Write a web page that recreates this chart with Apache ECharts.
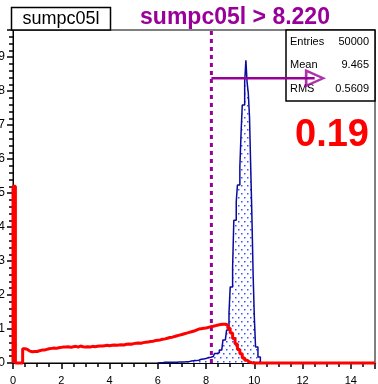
<!DOCTYPE html>
<html><head><meta charset="utf-8">
<script src="https://cdn.jsdelivr.net/npm/echarts@6/dist/echarts.min.js"></script>
<style>html,body{margin:0;padding:0;background:#fff;overflow:hidden}#c{width:378px;height:384px}</style>
</head><body><div id="c"></div>
<script>
// ---------- data ----------
const histTitle = 'sumpc05l';
const cutTitle = 'sumpc05l > 8.220';
const cutValue = 8.22;
const arrowY = 8.38;
const arrowEndX = 12.5;
const efficiencyText = '0.19';
const statNames = ['Entries', 'Mean', 'RMS'];
const statValues = ['50000', '9.465', '0.5609'];
const xRange = [0, 15];
const yRange = [0, 9.8];
const xTickStep = 2;
const yTickStep = 1;

// red (all events) histogram, bins of 0.1 starting at 0
const redStart = 0;
const redBinWidth = 0.1;
const redValues = [
  5.2, 0, 0, 0, 0.42, 0.40, 0.35, 0.33, 0.34, 0.34,
  0.36, 0.38, 0.38, 0.40, 0.42, 0.43, 0.44, 0.43, 0.45, 0.46,
  0.47, 0.47, 0.48, 0.46, 0.48, 0.49, 0.47, 0.50, 0.48, 0.47,
  0.48, 0.47, 0.49, 0.48, 0.49, 0.50, 0.50, 0.51, 0.52, 0.51,
  0.52, 0.53, 0.52, 0.53, 0.54, 0.53, 0.55, 0.56, 0.55, 0.57,
  0.58, 0.59, 0.58, 0.60, 0.61, 0.62, 0.63, 0.64, 0.66, 0.67,
  0.68, 0.70, 0.71, 0.73, 0.75, 0.76, 0.78, 0.80, 0.82, 0.84,
  0.86, 0.88, 0.90, 0.92, 0.94, 0.97, 1.00, 1.01, 1.02, 1.03,
  1.05, 1.07, 1.08, 1.10, 1.12, 1.13, 1.14, 1.14, 1.12, 1.02,
  0.88, 0.72, 0.56, 0.40, 0.27, 0.15, 0.08, 0.03, 0.01, 0
];

// blue (signal) histogram, bins of 0.05 starting at 6.0
const blueStart = 6.0;
const blueBinWidth = 0.05;
const blueValues = [
  0.01, 0.01, 0.01, 0.01, 0.01, 0.02, 0.01, 0.02, 0.02, 0.02,
  0.02, 0.02, 0.02, 0.02, 0.03, 0.02, 0.03, 0.03, 0.03, 0.03,
  0.03, 0.03, 0.03, 0.04, 0.04, 0.04, 0.06, 0.06, 0.06, 0.07,
  0.07, 0.07, 0.08, 0.08, 0.09, 0.11, 0.11, 0.12, 0.12, 0.13,
  0.15, 0.16, 0.16, 0.17, 0.18, 0.19, 0.20,
  0.28, 0.28, 0.30, 0.30,
  0.38, 0.38, 0.38,
  0.68, 0.68, 0.68,
  0.97, 0.97,
  1.47, 2.24, 2.24, 2.82, 4.2, 4.2, 4.74, 5.24, 5.24, 5.76,
  6.76, 7.59, 7.59, 8.26, 8.91, 8.26, 7.94, 7.24, 5.76, 4.3,
  2.6, 1.35, 0.47, 0.47, 0.18, 0.18, 0.03
];

// ---------- build ----------
function histPoints(start, w, vals, endX) {
  const pts = [[start, 0]];
  vals.forEach((v, i) => pts.push([+(start + i * w).toFixed(4), v]));
  pts.push([+(start + vals.length * w).toFixed(4), 0]);
  if (endX !== undefined) pts.push([endX, 0]);
  return pts;
}

const pat = document.createElement('canvas');
pat.width = 6; pat.height = 8;
const pc = pat.getContext('2d');
pc.fillStyle = '#ffffff'; pc.fillRect(0, 0, 6, 8);
pc.fillStyle = '#3a55ff';
pc.fillRect(1, 1, 1.5, 1.5);
pc.fillRect(4, 5, 1.5, 1.5);

const PURPLE = '#990099';
const FONT = 'Liberation Sans, Arial, Helvetica, sans-serif';

const chart = echarts.init(document.getElementById('c'), null, {renderer: 'canvas'});

const statGraphics = [];
statNames.forEach((n, i) => {
  statGraphics.push({type: 'text', x: 290, y: 42 + i * 23.3, z: 1,
    style: {text: n, fontSize: 11, fontFamily: FONT, fill: '#000', verticalAlign: 'middle', align: 'left'}});
  statGraphics.push({type: 'text', x: 369, y: 42 + i * 23.3, z: 1,
    style: {text: statValues[i], fontSize: 11, fontFamily: FONT, fill: '#000', verticalAlign: 'middle', align: 'right'}});
});

chart.setOption({
  animation: false,
  backgroundColor: '#fff',
  grid: {left: 13, right: 3, top: 30, bottom: 21, outerBoundsMode: 'none', containLabel: false,
    show: true, borderColor: '#000', borderWidth: 1, backgroundColor: 'transparent'},
  xAxis: {
    type: 'value', min: xRange[0], max: xRange[1], interval: xTickStep,
    axisLine: {show: true, onZero: false, lineStyle: {color: '#000', width: 1}},
    axisTick: {show: true, inside: false, length: 6, lineStyle: {color: '#000', width: 1.5}},
    minorTick: {show: true, splitNumber: 4, length: 4, lineStyle: {color: '#000', width: 1.5}},
    axisLabel: {fontSize: 11, fontFamily: FONT, color: '#000', margin: 12, showMaxLabel: false},
    splitLine: {show: false}
  },
  yAxis: {
    type: 'value', min: yRange[0], max: yRange[1], interval: yTickStep,
    axisLine: {show: true, onZero: false, lineStyle: {color: '#000', width: 1}},
    axisTick: {show: true, inside: false, length: 6, lineStyle: {color: '#000', width: 1.5}},
    minorTick: {show: true, splitNumber: 5, length: 4, lineStyle: {color: '#000', width: 1.5}},
    axisLabel: {fontSize: 12, fontFamily: FONT, color: '#000', margin: 8, showMaxLabel: false},
    splitLine: {show: false}
  },
  series: [
    {
      name: 'signal', type: 'line', step: 'end', symbol: 'none', z: 2,
      data: histPoints(blueStart, blueBinWidth, blueValues),
      lineStyle: {color: '#0a0a9c', width: 1.5},
      areaStyle: {color: {image: pat, repeat: 'repeat'}, opacity: 1}
    },
    {
      name: 'cut', type: 'line', symbol: 'none', z: 3,
      data: [[cutValue, yRange[0]], [cutValue, yRange[1]]],
      lineStyle: {color: PURPLE, width: 3, type: [4, 4]}
    },
    {
      name: 'all', type: 'line', step: 'end', symbol: 'none', z: 4, clip: false,
      data: histPoints(redStart, redBinWidth, redValues, xRange[1]),
      lineStyle: {color: '#ff0000', width: 3}
    },
    {
      name: 'arrow', type: 'line', symbol: 'none', z: 5,
      data: [[cutValue, arrowY], [arrowEndX, arrowY]],
      lineStyle: {color: PURPLE, width: 2.5}
    },
    {
      name: 'arrowhead', type: 'scatter', z: 6,
      data: [[arrowEndX, arrowY]],
      symbol: 'triangle', symbolSize: [15, 17], symbolRotate: -90,
      itemStyle: {color: 'rgba(255,255,255,0)', borderColor: PURPLE, borderWidth: 2.5}
    }
  ],
  graphic: [
    {type: 'rect', z: 100, shape: {x: 11.5, y: 7.5, width: 99, height: 22.5},
      style: {fill: '#fff', stroke: '#000', lineWidth: 1.5}},
    {type: 'text', z: 101, x: 61, y: 19,
      style: {text: histTitle, fontSize: 18, fontFamily: FONT, fill: '#000', align: 'center', verticalAlign: 'middle'}},
    {type: 'text', z: 101, x: 235, y: 18,
      style: {text: cutTitle, fontSize: 23, fontWeight: 'bold', fontFamily: FONT, fill: PURPLE, align: 'center', verticalAlign: 'middle'}},
    {type: 'rect', z: 0, shape: {x: 286, y: 30, width: 89, height: 71},
      style: {fill: '#fff', stroke: '#000', lineWidth: 1.5}},
    ...statGraphics,
    {type: 'text', z: 101, x: 332, y: 136,
      style: {text: efficiencyText, fontSize: 38, fontWeight: 'bold', fontFamily: FONT, fill: '#ff0000', align: 'center', verticalAlign: 'middle'}}
  ]
});
</script>
</body></html>
